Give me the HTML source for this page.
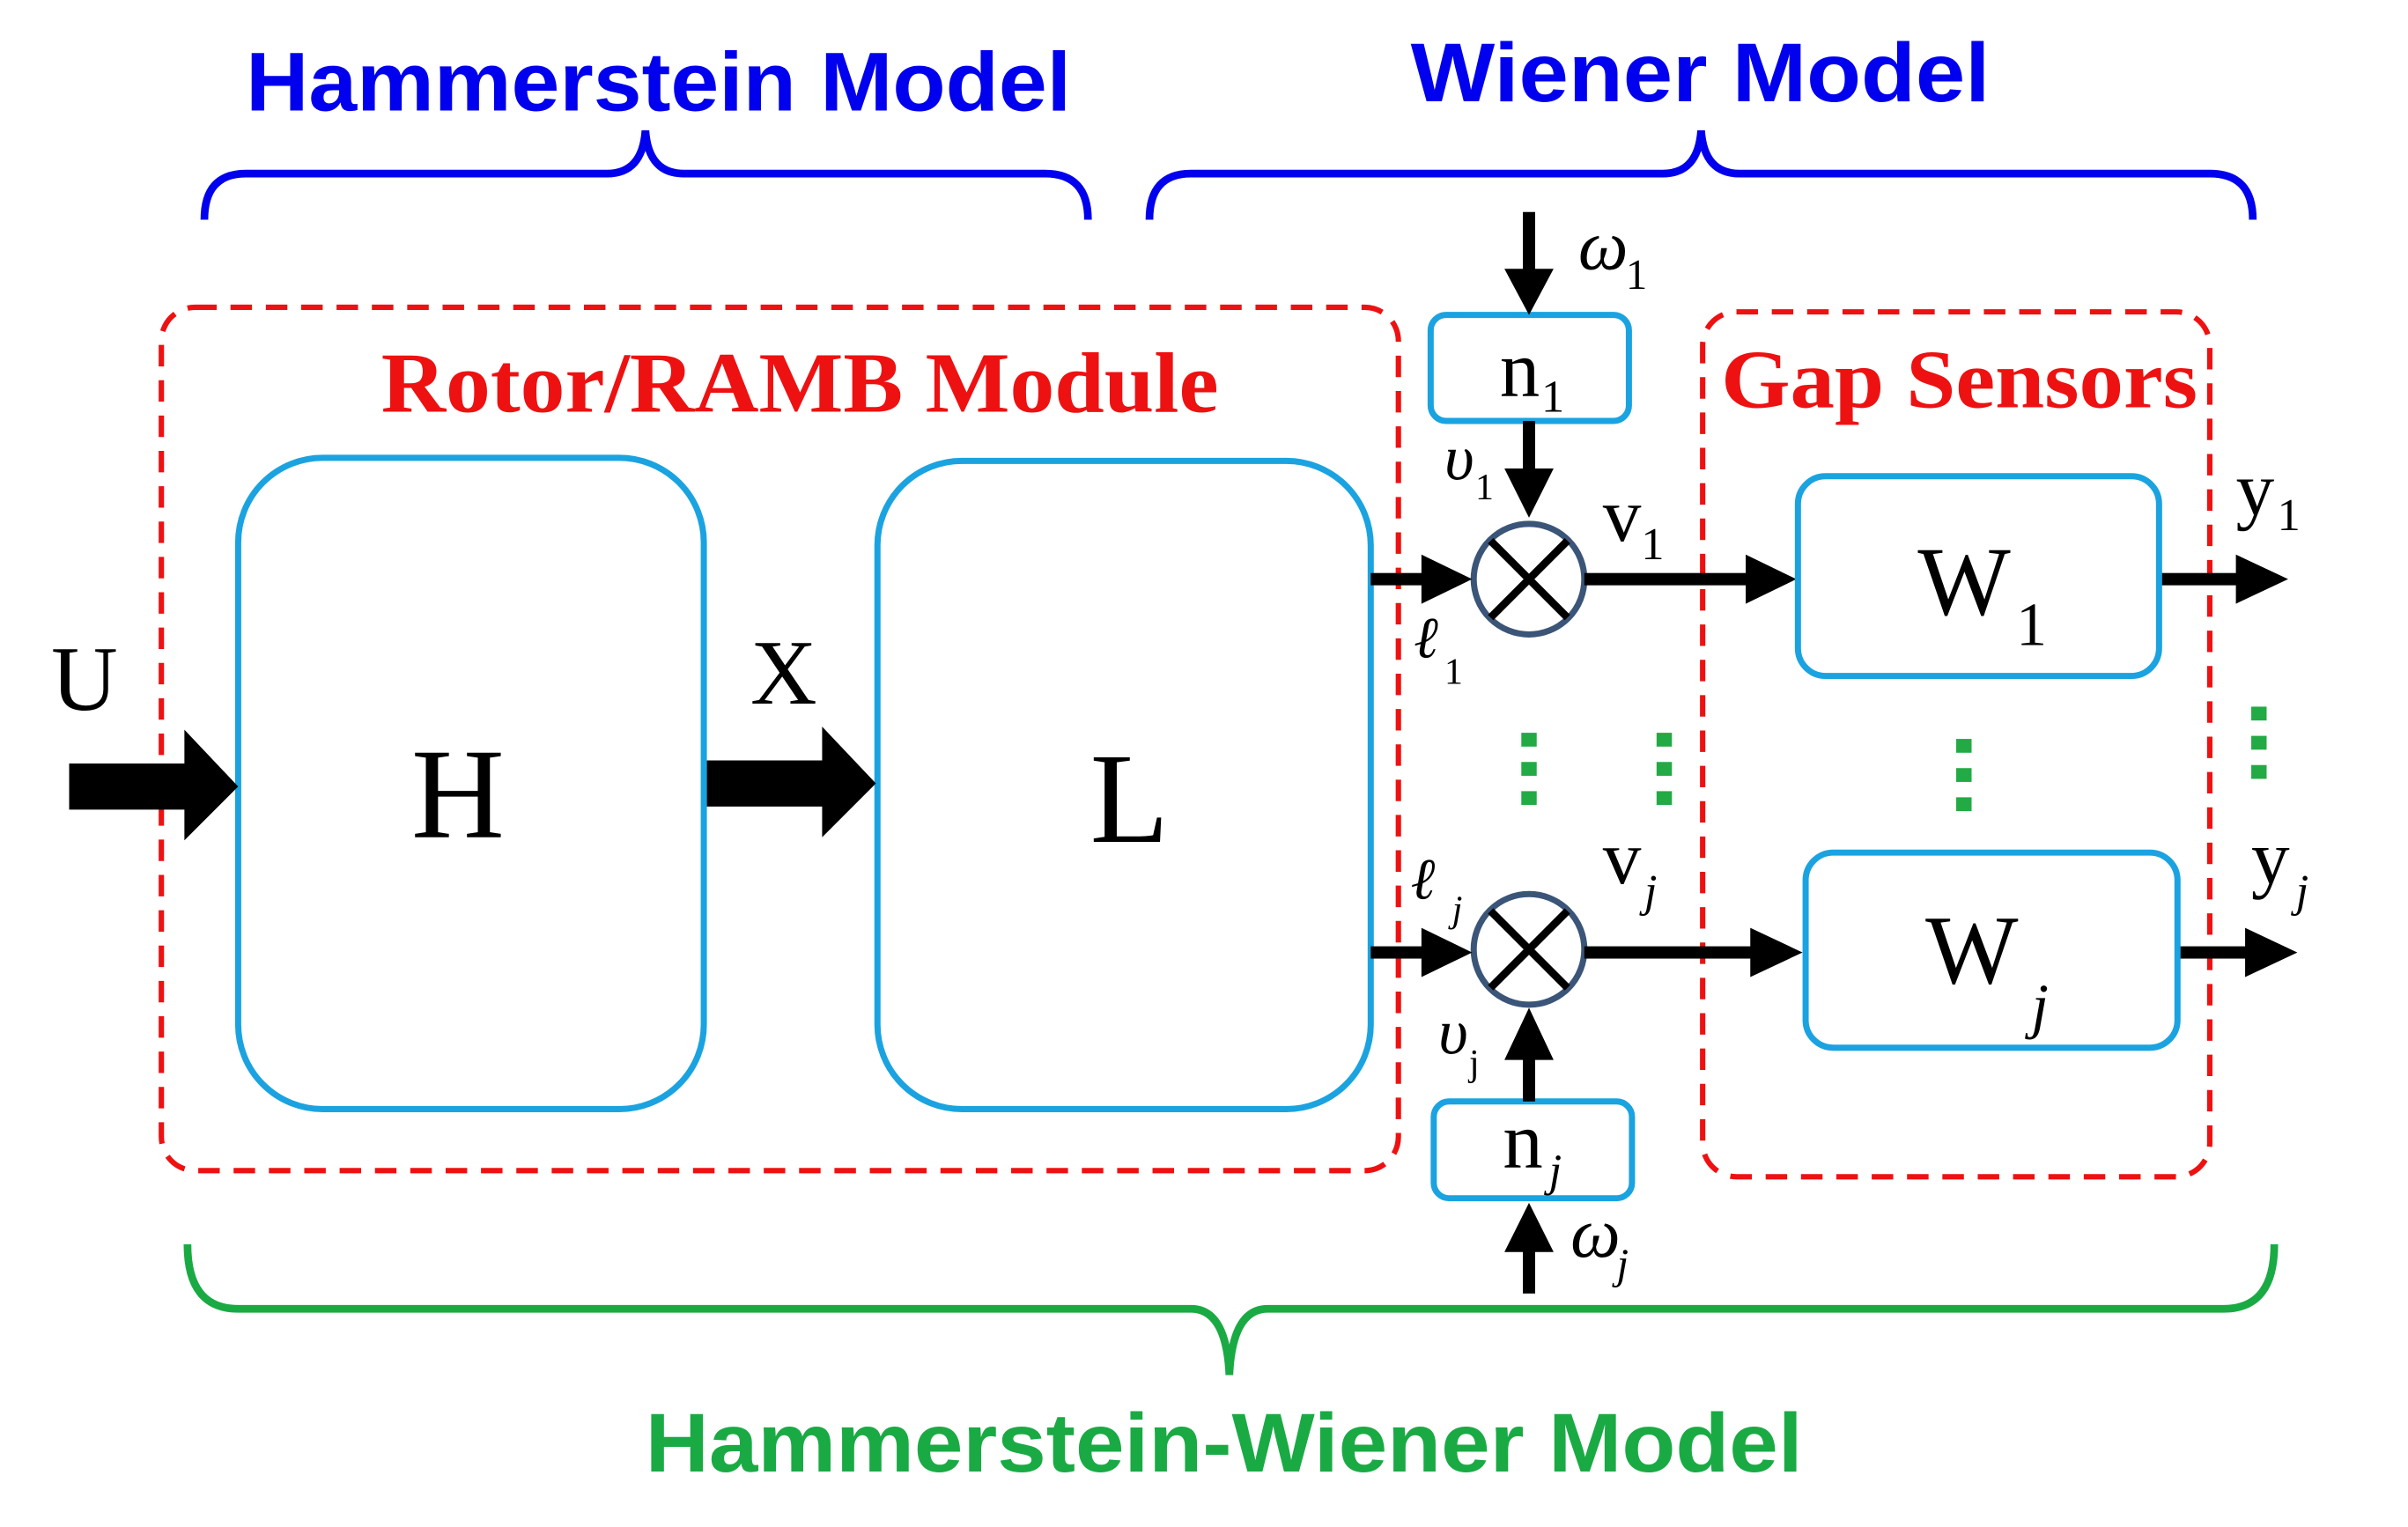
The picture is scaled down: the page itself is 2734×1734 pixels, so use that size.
<!DOCTYPE html>
<html><head><meta charset="utf-8"><style>
html,body{margin:0;padding:0;background:#fff;}
svg{display:block;}
.sans{font-family:"Liberation Sans",sans-serif;font-weight:bold;}
.serif{font-family:"Liberation Serif",serif;}
</style></head><body>
<svg width="2734" height="1734" viewBox="0 0 1567 994" preserveAspectRatio="none" xmlns="http://www.w3.org/2000/svg">
<!-- titles -->
<text x="160" y="72" class="sans" font-size="54" fill="#0000ee" textLength="537" lengthAdjust="spacingAndGlyphs">Hammerstein Model</text>
<text x="918" y="66" class="sans" font-size="54" fill="#0000ee" textLength="377" lengthAdjust="spacingAndGlyphs">Wiener Model</text>
<!-- blue braces -->
<path d="M133 143 Q133 113 160 113 L395 113 Q418 113 420 85 Q422 113 445 113 L680 113 Q708 113 708 143" fill="none" stroke="#0000ee" stroke-width="5"/>
<path d="M748 143 Q748 113 775 113 L1082 113 Q1105 113 1107 85 Q1109 113 1132 113 L1438 113 Q1466 113 1466 143" fill="none" stroke="#0000ee" stroke-width="5"/>
<!-- red dashed modules -->
<rect x="105" y="200" width="805" height="562" rx="22" fill="none" stroke="#ee1111" stroke-width="3.5" stroke-dasharray="14,9"/>
<rect x="1108" y="203" width="330" height="563" rx="22" fill="none" stroke="#ee1111" stroke-width="3.5" stroke-dasharray="14,9"/>
<text x="248" y="268" class="serif" font-weight="bold" font-size="56" fill="#ee1111" textLength="545" lengthAdjust="spacingAndGlyphs">Rotor/RAMB Module</text>
<text x="1120" y="265" class="serif" font-weight="bold" font-size="54" fill="#ee1111" textLength="310" lengthAdjust="spacingAndGlyphs">Gap Sensors</text>
<!-- H and L -->
<rect x="155" y="298" width="303" height="424" rx="55" fill="none" stroke="#1aa3e0" stroke-width="4"/>
<rect x="571" y="300" width="321" height="422" rx="55" fill="none" stroke="#1aa3e0" stroke-width="4"/>
<text x="298" y="545" text-anchor="middle" class="serif" font-size="84">H</text>
<text x="735" y="548" text-anchor="middle" class="serif" font-size="84">L</text>
<text x="55" y="462" text-anchor="middle" class="serif" font-size="60">U</text>
<text x="510" y="458" text-anchor="middle" class="serif" font-size="60">X</text>
<polygon points="45,497 120,497 120,475 155,512 120,547 120,527 45,527"/>
<polygon points="460,495 535,495 535,473 570,510 535,545 535,525 460,525"/>
<!-- n boxes -->
<rect x="931" y="205" width="129" height="69" rx="10" fill="none" stroke="#1aa3e0" stroke-width="4"/>
<rect x="933" y="717" width="129" height="63" rx="10" fill="none" stroke="#1aa3e0" stroke-width="4"/>
<text x="976" y="258" class="serif" font-size="52">n</text><text x="1003" y="268" class="serif" font-size="30">1</text>
<text x="978" y="760" class="serif" font-size="52">n</text><text x="1008" y="772" class="serif" font-style="italic" font-size="30">j</text>
<!-- omega arrows -->
<rect x="991" y="138" width="8" height="40"/><polygon points="979,175 1011,175 995,205"/>
<rect x="991" y="274" width="8" height="35"/><polygon points="979,305 1011,305 995,337"/>
<rect x="991" y="686" width="8" height="31"/><polygon points="979,690 1011,690 995,656"/>
<rect x="991" y="812" width="8" height="30"/><polygon points="979,815 1011,815 995,783"/>
<text x="1027" y="175" class="serif" font-style="italic" font-size="46">ω</text><text x="1058" y="188" class="serif" font-size="28">1</text>
<text x="1022" y="818" class="serif" font-style="italic" font-size="46">ω</text><text x="1052" y="832" class="serif" font-style="italic" font-size="28">j</text>
<text x="940" y="312" class="serif" font-style="italic" font-size="42">υ</text><text x="960" y="325" class="serif" font-size="24">1</text>
<text x="936" y="686" class="serif" font-style="italic" font-size="42">υ</text><text x="956" y="700" class="serif" font-size="24">j</text>
<text x="1043" y="352" class="serif" font-size="50">v</text><text x="1068" y="364" class="serif" font-size="30">1</text>
<text x="1043" y="575" class="serif" font-size="50">v</text><text x="1070" y="590" class="serif" font-style="italic" font-size="30">j</text>
<text x="920" y="428" class="serif" font-style="italic" font-size="38">ℓ</text><text x="940" y="445" class="serif" font-size="24">1</text>
<text x="918" y="585" class="serif" font-style="italic" font-size="38">ℓ</text><text x="945" y="600" class="serif" font-style="italic" font-size="24">j</text>
<!-- multipliers -->
<g fill="none" stroke-width="4">
<circle cx="995" cy="377" r="36" stroke="#3a5578"/><circle cx="995" cy="618" r="36" stroke="#3a5578"/>
</g>
<g stroke="#000" stroke-width="5">
<line x1="970" y1="352" x2="1020" y2="402"/><line x1="1020" y1="352" x2="970" y2="402"/>
<line x1="970" y1="593" x2="1020" y2="643"/><line x1="1020" y1="593" x2="970" y2="643"/>
</g>
<!-- horizontal lines -->
<rect x="892" y="373" width="35" height="8"/><polygon points="925,361 925,393 958,377"/>
<rect x="1031" y="373" width="107" height="8"/><polygon points="1136,361 1136,393 1169,377"/>
<rect x="1405" y="373" width="52" height="8"/><polygon points="1455,361 1455,393 1489,377"/>
<rect x="892" y="616" width="35" height="8"/><polygon points="925,604 925,636 958,620"/>
<rect x="1031" y="616" width="110" height="8"/><polygon points="1139,604 1139,636 1173,620"/>
<rect x="1417" y="616" width="46" height="8"/><polygon points="1461,604 1461,636 1495,620"/>
<!-- W boxes -->
<rect x="1170" y="310" width="235" height="130" rx="18" fill="none" stroke="#1aa3e0" stroke-width="4"/>
<rect x="1175" y="555" width="242" height="127" rx="18" fill="none" stroke="#1aa3e0" stroke-width="4"/>
<text x="1248" y="400" class="serif" font-size="64">W</text><text x="1312" y="420" class="serif" font-size="40">1</text>
<text x="1253" y="640" class="serif" font-size="64">W</text><text x="1322" y="668" class="serif" font-style="italic" font-size="40">j</text>
<text x="1455" y="335" class="serif" font-size="50">y</text><text x="1482" y="345" class="serif" font-size="30">1</text>
<text x="1465" y="575" class="serif" font-size="50">y</text><text x="1494" y="590" class="serif" font-style="italic" font-size="30">j</text>
<!-- green dots -->
<g fill="#22aa44">
<rect x="990" y="477" width="10" height="9"/><rect x="990" y="496" width="10" height="9"/><rect x="990" y="515" width="10" height="9"/>
<rect x="1078" y="477" width="10" height="9"/><rect x="1078" y="496" width="10" height="9"/><rect x="1078" y="515" width="10" height="9"/>
<rect x="1273" y="481" width="10" height="9"/><rect x="1273" y="500" width="10" height="9"/><rect x="1273" y="519" width="10" height="9"/>
<rect x="1465" y="460" width="10" height="9"/><rect x="1465" y="479" width="10" height="9"/><rect x="1465" y="498" width="10" height="9"/>
</g>
<!-- green brace -->
<path d="M122 810 Q122 852 155 852 L775 852 Q798 852 800 895 Q802 852 825 852 L1447 852 Q1480 852 1480 810" fill="none" stroke="#1aaa44" stroke-width="5"/>
<text x="420" y="958" class="sans" font-size="54" fill="#1aaa44" textLength="753" lengthAdjust="spacingAndGlyphs">Hammerstein-Wiener Model</text>
</svg>
</body></html>
